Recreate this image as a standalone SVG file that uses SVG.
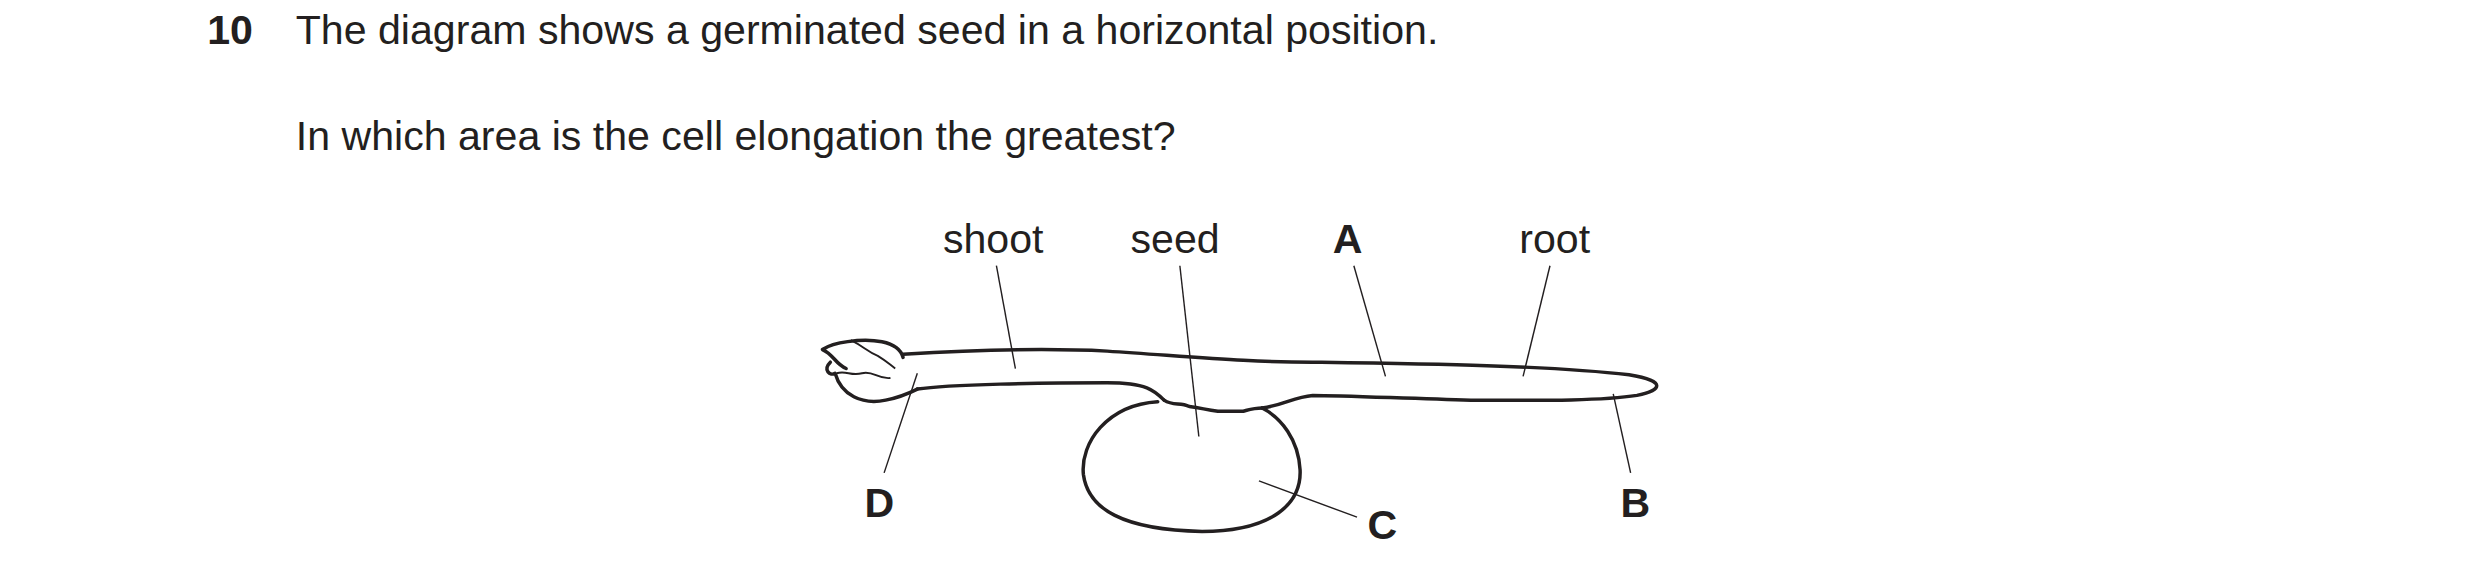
<svg xmlns="http://www.w3.org/2000/svg" width="2480" height="582" viewBox="0 0 2480 582">
<style>
text{font-family:"Liberation Sans",Arial,sans-serif;fill:#231f20;font-size:26px}
.b{font-weight:bold}
.o{fill:none;stroke:#231f20;stroke-width:2.2;stroke-linejoin:round;stroke-linecap:round}
.t{fill:none;stroke:#231f20;stroke-width:1.2}
.l{fill:none;stroke:#231f20;stroke-width:0.9}
</style>
<rect width="2480" height="582" fill="#fff"/>
<g transform="scale(1.5816)">
<g id="question">
<text class="b" x="131" y="28">10</text>
<text x="187" y="28">The diagram shows a germinated seed in a horizontal position.</text>
<text x="187" y="95">In which area is the cell elongation the greatest?</text>
</g>
<g id="seedling">
<path class="o" d="M571,224 C620,221 660,220 700,222 C760,226 790,229 830,229 C900,230 980,231 1030,237 C1055,241 1050,247 1035,250 C1010,254 960,253 930,253 C890,252 850,250 830,250 C818,251 812,256 798,258"/>
<path class="o" d="M580,246 C600,243 660,242 700,242 C725,242 730,247 736,253"/>
<path class="o" d="M736,253 C742,257 746,254 752,257 C760,258 762,259 770,260 L786,260 C790,259 793,258 798,258"/>
<path class="o" d="M732,254 C700,256 683,280 685,300 C688,322 710,335 760,336 C805,336 823,318 822,297 C821,278 810,264 798,258"/>
<path class="o" d="M571,226 C568,215 550,214 536,216 C528,217 523,219 520,221 C527,224 528,230 535,233"/>
<path class="o" d="M525,229 C520,234 525,238 528,236 C532,250 545,256 560,253 C570,251 576,248 580,246"/>
<path class="t" d="M538,215 C546,219 548,222 555,225 C560,228 562,230 566,233"/>
<path class="t" d="M529,236 C535,234 538,238 545,236 C552,234 555,240 563,239"/>
</g>
<g id="labels">
<text x="628" y="160" text-anchor="middle">shoot</text>
<text x="743" y="160" text-anchor="middle">seed</text>
<text class="b" x="852" y="160" text-anchor="middle">A</text>
<text x="983" y="160" text-anchor="middle">root</text>
<text class="b" x="556" y="327" text-anchor="middle">D</text>
<text class="b" x="874" y="341" text-anchor="middle">C</text>
<text class="b" x="1034" y="327" text-anchor="middle">B</text>
</g>
<g id="connectors">
<line class="l" x1="630" y1="168" x2="642" y2="233"/>
<line class="l" x1="746" y1="168" x2="758" y2="276"/>
<line class="l" x1="856" y1="168" x2="876" y2="238"/>
<line class="l" x1="980" y1="168" x2="963" y2="238"/>
<line class="l" x1="559" y1="299" x2="580" y2="236"/>
<line class="l" x1="858" y1="327" x2="796" y2="304"/>
<line class="l" x1="1031" y1="299" x2="1020" y2="249"/>
</g>
</g>
</svg>
